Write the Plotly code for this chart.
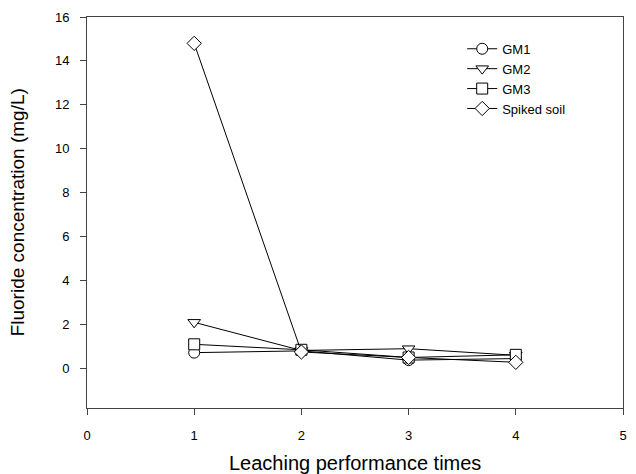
import plotly.graph_objects as go

x_vals = [1, 2, 3, 4]
gm1 = [0.72, 0.80, 0.38, 0.45]
gm2 = [2.10, 0.82, 0.90, 0.60]
gm3 = [1.10, 0.85, 0.50, 0.62]
spiked = [14.8, 0.75, 0.50, 0.28]
names = ["GM1", "GM2", "GM3", "Spiked soil"]
symbols = ["circle", "triangle-down", "square", "diamond"]
x_title = "Leaching performance times"
y_title = "Fluoride concentration (mg/L)"

fig = go.Figure()
for name, ys, sym in zip(names, [gm1, gm2, gm3, spiked], symbols):
    fig.add_trace(go.Scatter(
        x=x_vals, y=ys, name=name, mode="lines+markers",
        line=dict(color="black", width=1),
        marker=dict(symbol=sym, size=11, color="white",
                    line=dict(color="black", width=1)),
    ))

font = "Liberation Sans, Arial, sans-serif"
fig.update_layout(
    width=636, height=474,
    margin=dict(l=87, r=13, t=17, b=66, autoexpand=False),
    paper_bgcolor="white", plot_bgcolor="white",
    font=dict(family=font, color="black", size=13),
    showlegend=True,
    legend=dict(x=0.70, y=0.957, xanchor="left", yanchor="top",
                bgcolor="rgba(0,0,0,0)", font=dict(size=13), tracegroupgap=0,
                itemwidth=30),
    xaxis=dict(range=[0, 5], tickvals=[0, 1, 2, 3, 4, 5], showgrid=False, zeroline=False,
               showline=True, linecolor="#444", linewidth=1, mirror=True,
               ticks="outside", ticklen=6, tickcolor="#444", automargin=False,
               ticklabelstandoff=9),
    yaxis=dict(range=[-1.8, 16], tickvals=[0, 2, 4, 6, 8, 10, 12, 14, 16], showgrid=False,
               zeroline=False, showline=True, linecolor="#444", linewidth=1, mirror=True,
               ticks="outside", ticklen=6, tickcolor="#444", automargin=False,
               ticklabelstandoff=8),
    annotations=[
        dict(text=x_title, xref="paper", yref="paper", x=0.5, y=-0.14,
             xanchor="center", yanchor="middle", showarrow=False, font=dict(size=20)),
        dict(text=y_title, xref="paper", yref="paper", x=-0.129, y=0.5,
             xanchor="center", yanchor="middle", textangle=-90, showarrow=False,
             font=dict(size=19)),
    ],
)

fig.write_html("out.html", post_script="document.body.style.margin='0';",
               config={"displayModeBar": False})
